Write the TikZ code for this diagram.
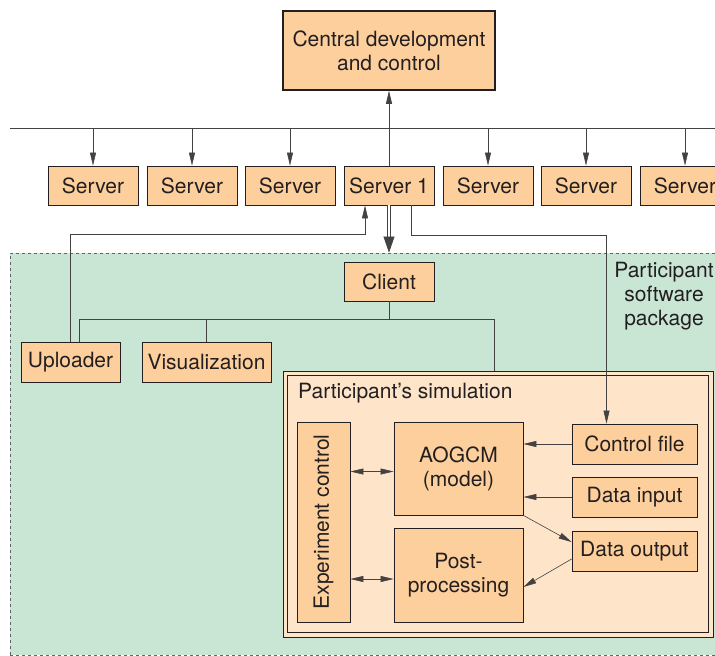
\documentclass[tikz,border=0pt]{standalone}
\usepackage{fontspec}
\setmainfont{TeX Gyre Heros}
\usetikzlibrary{arrows.meta}
\definecolor{boxpeach}{HTML}{FDCF9C}
\definecolor{simpeach}{HTML}{FEE4C9}
\definecolor{pkggreen}{HTML}{C9E6D5}
\definecolor{ink}{HTML}{231F20}
\begin{document}
\begin{tikzpicture}[x=1pt, y=-1pt,
    every node/.style={font=\fontsize{21}{24}\selectfont, text=ink, inner sep=0pt},
    unit/.style={draw=ink, fill=boxpeach, line width=0.8pt, align=center},
    srv/.style={unit, minimum width=90pt, minimum height=39pt},
    link/.style={draw=ink!85, line width=0.6pt},
    tip/.style={-{Triangle[length=13pt,width=6pt]}},
    twotip/.style={{Triangle[length=13pt,width=6pt]}-{Triangle[length=13pt,width=6pt]}}]
    \clip (0,0) rectangle (715,656);

    % participant software package
    \fill[pkggreen] (10,253) rectangle (730,655);
    \draw[ink!70, dashed, line width=0.7pt] (10,655) -- (10,253) -- (730,253);
    \draw[ink!70, dashed, line width=0.7pt] (10,655) -- (730,655);
    \draw (664,296) node[align=center] (pkg) {Participant\\software\\package};

    \draw (389,50.5) node[unit, minimum width=212pt, minimum height=79pt, line width=1.5pt] (central) {Central development\\and control};

    \draw (93,185.5) node[srv] (L3) {Server};
    \draw (192,185.5) node[srv] (L2) {Server};
    \draw (290,185.5) node[srv] (L1) {Server};
    \draw (389,185.5) node[srv] (srv1) {Server 1};
    \draw (488,185.5) node[srv] (R1) {Server};
    \draw (586,185.5) node[srv] (R2) {Server};
    \draw (685,185.5) node[srv] (R3) {Server};

    \draw (389,281.5) node[srv] (client) {Client};
    \draw (70.5,362) node[unit, minimum width=99pt, minimum height=40pt] (upl) {Uploader};
    \draw (206.5,362) node[unit, minimum width=129pt, minimum height=40pt] (vis) {Visualization};

    % participant's simulation
    \draw (498,504) node[draw=ink, line width=0.8pt, fill=simpeach, minimum width=430pt, minimum height=266pt] (sim) {};
    \draw[ink, line width=0.8pt] ([shift={(5pt,-5pt)}]sim.north west) rectangle ([shift={(-5pt,5pt)}]sim.south east);
    \draw (298,393) node[anchor=west] (simlabel) {Participant’s simulation};
    \draw (323.5,522) node[unit, rotate=90, minimum width=200pt, minimum height=53pt] (expc) {Experiment control};
    \draw (458.5,468.5) node[unit, minimum width=129pt, minimum height=93pt] (aogcm) {AOGCM\\(model)};
    \draw (458.5,575) node[unit, minimum width=129pt, minimum height=94pt] (post) {Post-\\processing};
    \draw (634.5,444) node[unit, minimum width=125pt, minimum height=40pt] (cfile) {Control file};
    \draw (634.5,497) node[unit, minimum width=125pt, minimum height=40pt] (din) {Data input};
    \draw (634.5,551) node[unit, minimum width=125pt, minimum height=40pt] (dout) {Data output};

    % bus
    \coordinate (busL) at (10,128);
    \coordinate (busR) at (730,128);
    \draw[link] (busL) -- (busR);
    \draw[link, tip] (L3.north |- busL) -- (L3);
    \draw[link, tip] (L2.north |- busL) -- (L2);
    \draw[link, tip] (L1.north |- busL) -- (L1);
    \draw[link, tip] (R1.north |- busL) -- (R1);
    \draw[link, tip] (R2.north |- busL) -- (R2);
    \draw[link, tip] (R3.north |- busL) -- (R3);
    \draw[link, tip] (srv1) -- (central);

    % server 1 and the package
    \draw[link, tip] (upl.north) -- ++(0,-107) -| ([xshift=-24pt]srv1.south);
    \draw[link, double=white, double distance=2.5pt, -{Triangle[length=16pt,width=11pt]}, shorten >=9pt] (srv1) -- (client);
    \draw[link, tip] ([xshift=22pt]srv1.south) -- ++(0,30) -| ([xshift=-28pt]cfile.north);

    % client tree
    \draw[link] (client) -- (client.south |- 0,320);
    \draw[link] ([xshift=9pt]upl.north) -- ++(0,-22) -| ([xshift=-4pt]sim.north);
    \draw[link] (vis) -- (vis.north |- 0,320);

    % inside the simulation
    \draw[link, tip] (cfile.west) -- (cfile.west -| aogcm.east);
    \draw[link, tip] (din.west) -- (din.west -| aogcm.east);
    \draw[link, tip] (aogcm.south east) -- ([yshift=9pt]dout.west);
    \draw[link, tip] ([yshift=-8pt]dout.west) -- ([yshift=-12pt]post.east);
    \draw[link, twotip] ([yshift=-3pt]aogcm.west -| expc.south) -- ([yshift=-3pt]aogcm.west);
    \draw[link, twotip] ([yshift=-4pt]post.west -| expc.south) -- ([yshift=-4pt]post.west);
\end{tikzpicture}
\end{document}
